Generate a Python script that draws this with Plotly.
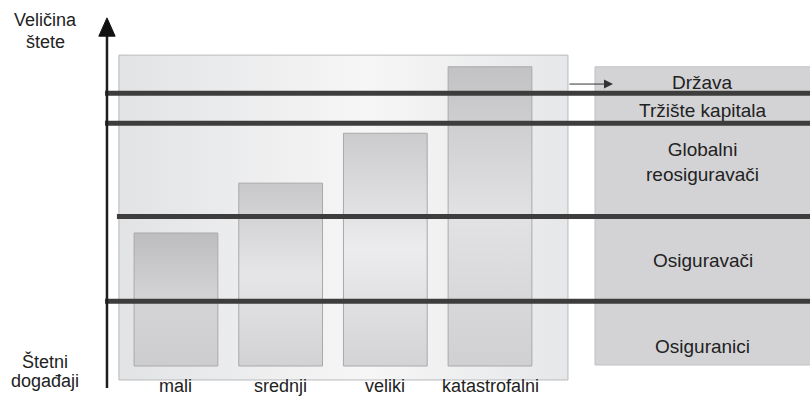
import plotly.graph_objects as go

# ---------------- data ----------------
categories = ["mali", "srednji", "veliki", "katastrofalni"]
damage_values = [40, 55, 70, 90]          # size of loss per event class
layer_bounds = [19.5, 45, 73, 82]          # boundaries between risk bearers
layer_labels = ["Osiguranici", "Osiguravači", "Globalni<br>reosiguravači",
                "Tržište kapitala", "Država"]
layer_label_y = [6, 31.6, 61.4, 76.7, 85.4]
y_title_top = ["Veličina", "štete"]
y_title_bottom = ["Štetni", "događaji"]

# ---------------- layout constants ----------------
FONT = "Liberation Sans, Arial, sans-serif"
X_RANGE = [-1.681, 6.057]
Y_RANGE = [-9.32, 110.08]
BAR_W = 0.8
PANEL_X = [-0.545, 3.745]
PANEL_Y = [-4.2, 93.5]
RIGHT_X = [4.003, 6.2]
RIGHT_TOP = 90
AXIS_X = -0.659
LINE_STARTS = [-0.678, -0.564, -0.678, -0.678]
TXT = "#222222"

fig = go.Figure()

# background panel with horizontal gradient
fig.add_trace(go.Scatter(
    x=[PANEL_X[0], PANEL_X[1], PANEL_X[1], PANEL_X[0], PANEL_X[0]],
    y=[PANEL_Y[0], PANEL_Y[0], PANEL_Y[1], PANEL_Y[1], PANEL_Y[0]],
    mode="lines", fill="toself",
    line=dict(color="#b8b9bb", width=1),
    fillgradient=dict(type="horizontal",
                      colorscale=[[0, "#e2e3e5"], [0.55, "#f6f6f6"], [1, "#e6e7e9"]],
                      start=PANEL_X[0], stop=PANEL_X[1]),
    hoverinfo="skip", showlegend=False))

# bars
bar_scales = [
    [[0, "#cdcdcf"], [0.5, "#d4d4d6"], [1, "#bdbdc0"]],
    [[0, "#d2d2d4"], [0.5, "#e6e6e8"], [1, "#c8c8cb"]],
    [[0, "#d3d3d5"], [0.5, "#ececee"], [1, "#cbcbce"]],
    [[0, "#d0d0d2"], [0.5, "#e2e2e4"], [1, "#c2c2c5"]],
]
for i, (cat, v) in enumerate(zip(categories, damage_values)):
    x0, x1 = i - BAR_W / 2, i + BAR_W / 2
    fig.add_trace(go.Scatter(
        x=[x0, x1, x1, x0, x0], y=[0, 0, v, v, 0],
        mode="lines", fill="toself",
        line=dict(color="#a9a9ac", width=1),
        fillgradient=dict(type="vertical", colorscale=bar_scales[i], start=0, stop=v),
        hoverinfo="skip", showlegend=False, name=cat))

# right panel (risk bearers)
fig.add_trace(go.Scatter(
    x=[RIGHT_X[0], RIGHT_X[1], RIGHT_X[1], RIGHT_X[0], RIGHT_X[0]],
    y=[0.3, 0.3, RIGHT_TOP, RIGHT_TOP, 0.3],
    mode="lines", fill="toself", fillcolor="#d3d3d5",
    line=dict(color="#c2c2c4", width=1),
    hoverinfo="skip", showlegend=False))

# layer boundary lines
for b, xs in zip(layer_bounds, LINE_STARTS):
    fig.add_trace(go.Scatter(
        x=[xs, X_RANGE[1] + 0.2], y=[b, b], mode="lines",
        line=dict(color="#3d3d3d", width=5),
        hoverinfo="skip", showlegend=False))

# vertical axis
fig.add_trace(go.Scatter(
    x=[AXIS_X, AXIS_X], y=[-6.6, 100], mode="lines",
    line=dict(color="#1e1e1e", width=2.5),
    hoverinfo="skip", showlegend=False))
fig.add_trace(go.Scatter(
    x=[AXIS_X - 0.078, AXIS_X + 0.078, AXIS_X, AXIS_X - 0.078],
    y=[99.2, 99.2, 104.7, 99.2], mode="lines", fill="toself",
    fillcolor="#111111", line=dict(color="#111111", width=1),
    hoverinfo="skip", showlegend=False))

annotations = []
# category labels
for i, cat in enumerate(categories):
    annotations.append(dict(x=i, y=-5.9, text=cat, showarrow=False,
                            font=dict(family=FONT, size=18, color=TXT),
                            xanchor="center", yanchor="middle"))
# layer labels
for lab, ly in zip(layer_labels, layer_label_y):
    annotations.append(dict(x=(RIGHT_X[0] + X_RANGE[1]) / 2, y=ly, text=lab,
                            showarrow=False,
                            font=dict(family=FONT, size=19, color=TXT),
                            xanchor="center", yanchor="middle"))
# axis titles
for txt, ty in zip(y_title_top, [104.0, 97.4]):
    annotations.append(dict(x=-1.25, y=ty, text=txt, showarrow=False,
                            font=dict(family=FONT, size=18, color=TXT),
                            xanchor="center", yanchor="middle"))
for txt, ty in zip(y_title_bottom, [1.4, -4.6]):
    annotations.append(dict(x=-1.25, y=ty, text=txt, showarrow=False,
                            font=dict(family=FONT, size=18, color=TXT),
                            xanchor="center", yanchor="middle"))
# arrow from panel to "Država"
annotations.append(dict(x=4.175, y=84.8, ax=PANEL_X[1], ay=84.8,
                        xref="x", yref="y", axref="x", ayref="y",
                        text="", showarrow=True, arrowhead=2, arrowsize=1.8,
                        arrowwidth=1, arrowcolor="#333333"))

fig.update_layout(
    width=810, height=397,
    margin=dict(l=0, r=0, t=0, b=0),
    paper_bgcolor="white", plot_bgcolor="white",
    xaxis=dict(range=X_RANGE, visible=False, fixedrange=True),
    yaxis=dict(range=Y_RANGE, visible=False, fixedrange=True),
    annotations=annotations,
    showlegend=False,
)

fig.write_html("out.html")
